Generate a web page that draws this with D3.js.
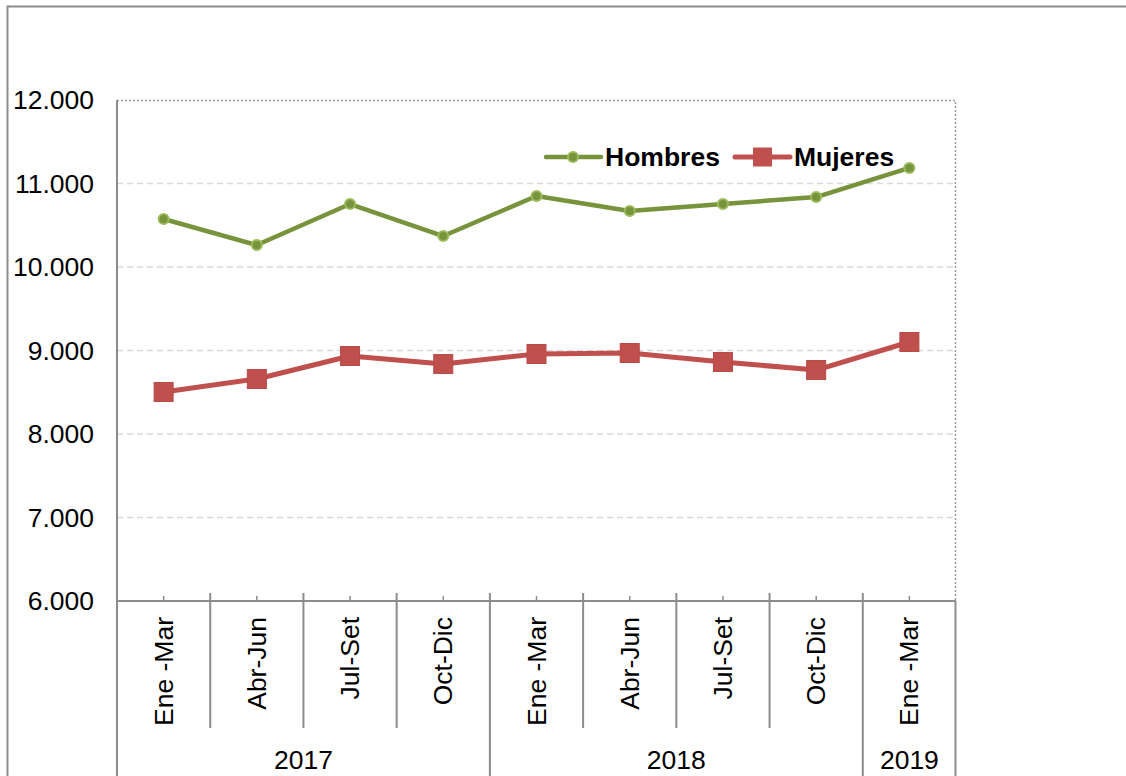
<!DOCTYPE html>
<html><head><meta charset="utf-8">
<script src="https://cdn.jsdelivr.net/npm/d3@7"></script>
<style>body{margin:0;background:#fff}svg{display:block}</style>
</head><body>
<svg id="c" width="1126" height="776"></svg>
<script>
const categories = ["Ene -Mar","Abr-Jun","Jul-Set","Oct-Dic","Ene -Mar","Abr-Jun","Jul-Set","Oct-Dic","Ene -Mar"];
const years = [{label:"2017", start:0, end:4},{label:"2018", start:4, end:8},{label:"2019", start:8, end:9}];
const hombres = [10575, 10263, 10754, 10371, 10850, 10671, 10754, 10838, 11186];
const mujeres = [8503, 8659, 8934, 8838, 8958, 8970, 8862, 8766, 9102];
const yTicks = [6000, 7000, 8000, 9000, 10000, 11000, 12000];
const seriesNames = ["Hombres", "Mujeres"];

const svg = d3.select("#c");
const font = "'Liberation Sans', Arial, sans-serif";
const fs = 26.5;
const L = 117, R = 956, T = 100, B = 601;

// outer frame
svg.append("path").attr("d", `M7.5,776 V6.5 H1126`).attr("fill","none").attr("stroke","#8c8c8c").attr("stroke-width",2);

const x = d3.scaleBand().domain(d3.range(categories.length)).range([L, R]).padding(0);
const y = d3.scaleLinear().domain([6000, 12000]).range([B, T]);

// gridlines
svg.append("g").selectAll("line").data(yTicks.filter(t => t > 6000 && t < 12000)).join("line")
  .attr("x1", L).attr("x2", R).attr("y1", d => y(d)).attr("y2", d => y(d))
  .attr("stroke", "#d9d9d9").attr("stroke-width", 1.3).attr("stroke-dasharray", "6,4");

// plot area border (dotted top & right)
svg.append("path").attr("d", `M${L},${T+0.5} H${R-0.5} V${B}`).attr("fill","none")
  .attr("stroke","#999").attr("stroke-width",1.5).attr("stroke-dasharray","2,2");

// y axis labels
svg.append("g").selectAll("text").data(yTicks).join("text")
  .attr("x", 94).attr("y", d => y(d)).attr("dy", "0.35em").attr("text-anchor", "end")
  .attr("font-family", font).attr("font-size", fs).attr("fill", "#000").text(d => d3.format(",")(d).replace(/,/g, "."));

// left axis line
svg.append("line").attr("x1", L).attr("x2", L).attr("y1", T).attr("y2", 776).attr("stroke", "#8c8c8c").attr("stroke-width", 2);
// right line below axis
svg.append("line").attr("x1", R-0.5).attr("x2", R-0.5).attr("y1", B).attr("y2", 776).attr("stroke", "#8c8c8c").attr("stroke-width", 2);
// bottom axis line
svg.append("line").attr("x1", L).attr("x2", R).attr("y1", B).attr("y2", B).attr("stroke", "#8c8c8c").attr("stroke-width", 2);

// small ticks at centers
svg.append("g").selectAll("line").data(d3.range(categories.length)).join("line")
  .attr("x1", i => x(i) + x.bandwidth()/2).attr("x2", i => x(i) + x.bandwidth()/2)
  .attr("y1", B - 5).attr("y2", B).attr("stroke", "#8c8c8c").attr("stroke-width", 1.5);

// separators between categories
const yearBounds = new Set(years.map(d => d.start));
svg.append("g").selectAll("line").data(d3.range(1, categories.length)).join("line")
  .attr("x1", i => x(i)).attr("x2", i => x(i))
  .attr("y1", B - 8).attr("y2", i => yearBounds.has(i) ? 776 : 728)
  .attr("stroke", "#8c8c8c").attr("stroke-width", 2);

// category labels rotated
svg.append("g").selectAll("text").data(categories).join("text")
  .attr("transform", (d, i) => `translate(${x(i) + x.bandwidth()/2 + 9},617) rotate(-90)`)
  .attr("text-anchor", "end").attr("font-family", font).attr("font-size", fs).attr("fill", "#000").text(d => d);

// year labels
svg.append("g").selectAll("text").data(years).join("text")
  .attr("x", d => (x(d.start) + (d.end < categories.length ? x(d.end) : R)) / 2)
  .attr("y", 769).attr("text-anchor", "middle")
  .attr("font-family", font).attr("font-size", fs).attr("fill", "#000").text(d => d.label);

const line = d3.line().x((d, i) => x(i) + x.bandwidth()/2).y(d => y(d));
const green = "#77933C", greenLight = "#9BBB59", red = "#C0504D";

// Mujeres
svg.append("path").datum(mujeres).attr("d", line).attr("fill", "none").attr("stroke", red).attr("stroke-width", 5).attr("stroke-linejoin", "round");
svg.append("g").selectAll("rect").data(mujeres).join("rect")
  .attr("x", (d, i) => x(i) + x.bandwidth()/2 - 9.5).attr("y", d => y(d) - 9.5)
  .attr("width", 19).attr("height", 19).attr("fill", red).attr("stroke", "#b84a47").attr("stroke-width", 1);

// Hombres
svg.append("path").datum(hombres).attr("d", line).attr("fill", "none").attr("stroke", green).attr("stroke-width", 4.5).attr("stroke-linejoin", "round");
svg.append("g").selectAll("circle").data(hombres).join("circle")
  .attr("cx", (d, i) => x(i) + x.bandwidth()/2).attr("cy", d => y(d)).attr("r", 5)
  .attr("fill", green).attr("stroke", greenLight).attr("stroke-width", 2);

// legend
const lg = svg.append("g");
lg.append("line").attr("x1", 546).attr("x2", 601).attr("y1", 157).attr("y2", 157).attr("stroke", green).attr("stroke-width", 4.5).attr("stroke-linecap", "round");
lg.append("circle").attr("cx", 573).attr("cy", 157).attr("r", 5).attr("fill", green).attr("stroke", greenLight).attr("stroke-width", 2);
lg.append("text").attr("x", 605).attr("y", 157).attr("dy", "0.35em").attr("font-family", font).attr("font-weight", "bold").attr("font-size", fs).text(seriesNames[0]);
lg.append("line").attr("x1", 735).attr("x2", 790).attr("y1", 157).attr("y2", 157).attr("stroke", red).attr("stroke-width", 5).attr("stroke-linecap", "round");
lg.append("rect").attr("x", 753).attr("y", 147.5).attr("width", 19).attr("height", 19).attr("fill", red);
lg.append("text").attr("x", 794).attr("y", 157).attr("dy", "0.35em").attr("font-family", font).attr("font-weight", "bold").attr("font-size", fs).text(seriesNames[1]);
</script>
</body></html>
